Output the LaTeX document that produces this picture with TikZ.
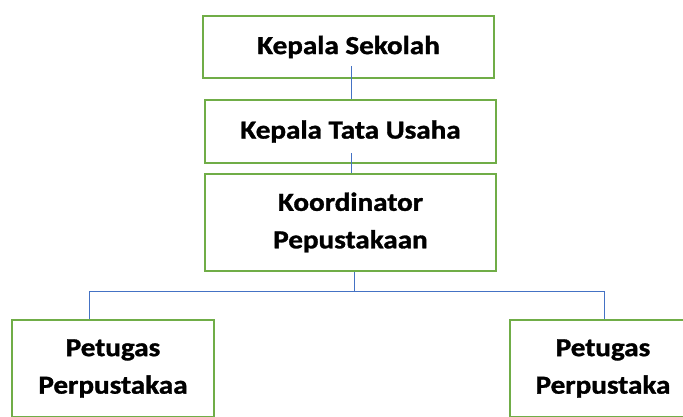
\documentclass[tikz,border=0pt]{standalone}
\usepackage{fontspec}
\setmainfont{Carlito}[BoldFeatures={FakeBold=1.2}]
\usetikzlibrary{calc}
\definecolor{boxgreen}{HTML}{70AD47}
\definecolor{linkblue}{HTML}{4472C4}
\newcommand{\wide}[1]{\scalebox{1.12}[1]{#1}}
\begin{document}
\begin{tikzpicture}[x=1pt,y=-1pt,
  box/.style={draw=boxgreen, line width=2.6pt, inner sep=0pt, align=center,
    font=\fontsize{26}{37.5}\selectfont\bfseries},
  link/.style={draw=linkblue, line width=0.9pt}]
\useasboundingbox (0,0) rectangle (683,416);
\clip (0,0) rectangle (683,416);
\node[box, minimum width=291pt, minimum height=62pt] (ks) at (348.5,47) {\wide{Kepala Sekolah}};
\node[box, minimum width=291pt, minimum height=63pt] (kt) at (350.5,131.5) {\wide{Kepala Tata Usaha}};
\node[box, minimum width=291pt, minimum height=97pt] (kp) at (350.5,222.5) {\wide{Koordinator}\\\wide{Pepustakaan}};
\node[box, minimum width=202pt, minimum height=97pt] (pl) at (113,368.5) {\wide{Petugas}\\\wide{Perpustakaa}};
\node[box, minimum width=186pt, minimum height=97pt] (pr) at (603,368.5) {\wide{Petugas}\\\wide{Perpustaka}};
\coordinate (bus) at (354,291);
\draw[link] ([xshift=2.5pt,yshift=13pt]ks.south) -- ([xshift=0.5pt]kt.north);
\draw[link] ([xshift=0.5pt,yshift=11pt]kt.south) -- ([xshift=0.5pt]kp.north);
\draw[link] ([xshift=3.5pt]kp.south) -- (bus);
\draw[link] (bus) -| ([xshift=-24pt]pl.north);
\draw[link] (bus) -| ([xshift=1pt]pr.north);
\end{tikzpicture}
\end{document}
